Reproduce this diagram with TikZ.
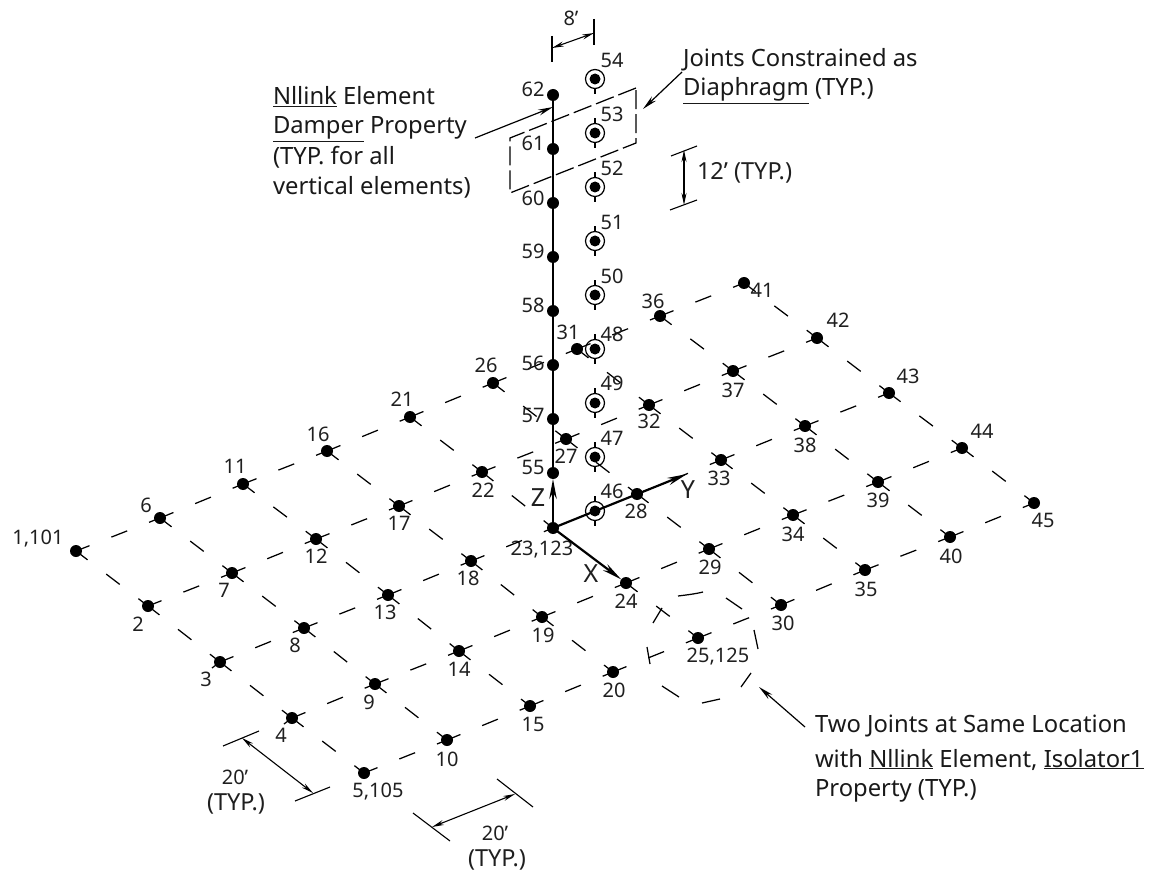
\documentclass[tikz,border=0pt]{standalone}
\usepackage{fontspec}
\setmainfont{Noto Sans}
\usetikzlibrary{arrows.meta}
\tikzset{
  x=1pt,y=-1pt,
  every node/.style={inner sep=0pt,outer sep=0pt},
  dot/.style={circle,fill=black,minimum size=12pt},
  innerdot/.style={circle,fill=black,minimum size=11pt},
  ring/.style={circle,draw=black,line width=1.2pt,minimum size=19pt},
  ptlabel/.style={font=\fontsize{20}{22}\selectfont,text=black!88},
  typlabel/.style={font=\fontsize{23.5}{26}\selectfont,text=black!88},
  axlabel/.style={font=\fontsize{25}{27}\selectfont,text=black!88},
  note/.style={font=\fontsize{23.8}{28}\selectfont,text=black!90,anchor=base west},
  gridline/.style={line width=1.25pt,dash pattern=on 14.5pt off 23.5pt on 17pt off 23.5pt},
  axis/.style={line width=2.2pt,-{Stealth[length=20pt,width=7.5pt]}},
  dim/.style={line width=1.1pt,{Stealth[length=12pt,width=5pt]}-{Stealth[length=12pt,width=5pt]}},
  lead/.style={line width=1.2pt,-{Stealth[length=15pt,width=6pt]}},
  tick/.style={line width=1.1pt},
  piece/.style={line width=1.25pt},
  frame/.style={line width=1.25pt,dash pattern=on 19pt off 5pt},
}
\begin{document}
\begin{tikzpicture}
\useasboundingbox (0,0) rectangle (1150,874);
% grid joints: number / x / y / label x / label y / label
\foreach \i/\x/\y/\lx/\ly/\t in {
 1/76/551/38/539/{1,101},2/148/606/138/624/2,3/220/662/206/679/3,4/292/718/281/735/4,5/364/773/378/792/{5,105},
 6/160/518/146/505/6,7/232/573/224/590/7,8/304/628/295/645/8,9/375/684/369/702/9,10/447/740/447/759/10,
 11/243/484/235/466/11,12/316/539/316/556/12,13/388/595/385/612/13,14/459/651/459/669/14,15/530/706/533/724/15,
 16/327/451/318/434/16,17/399/506/399/523/17,18/471/561/468/578/18,19/542/617/543/635/19,20/613/672/614/690/20,
 21/410/417/402/399/21,22/482/472/483/490/22,23/553/528/542/550/{23,123},24/626/583/626/601/24,25/698/638/718/657/{25,125},
 26/493/383/486/365/26,27/566/439/566/456/27,28/637/494/636/511/28,29/709/549/710/567/29,30/781/605/783/623/30,
 31/577/349/568/332/31,32/649/405/649/421/32,33/721/460/719/478/33,34/793/515/793/534/34,35/865/570/866/589/35,
 36/660/316/653/301/36,37/733/371/733/390/37,38/805/426/805/445/38,39/878/482/878/500/39,40/950/537/951/556/40,
 41/744/283/762/290/41,42/817/338/838/320/42,43/889/393/908/376/43,44/962/448/982/431/44,45/1034/503/1043/520/45}{
  \node[dot] (n\i) at (\x,\y) {};
  \node[ptlabel] (l\i) at (\lx,\ly) {\t};
}
% grid lines along X
\foreach \a/\b in {1/2,2/3,3/4,4/5,6/7,7/8,8/9,9/10,11/12,12/13,13/14,14/15,16/17,17/18,18/19,19/20,
 21/22,22/23,24/25,26/27,27/28,28/29,29/30,31/32,32/33,33/34,34/35,36/37,37/38,38/39,39/40,41/42,42/43,43/44,44/45}
  \draw[gridline] (n\a.center) -- (n\b.center);
% grid lines along Y
\foreach \a/\b in {1/6,6/11,11/16,16/21,21/26,26/31,31/36,36/41,
 2/7,7/12,12/17,17/22,22/27,27/32,32/37,37/42,
 3/8,8/13,13/18,18/23,28/33,33/38,38/43,
 4/9,9/14,14/19,19/24,24/29,29/34,34/39,39/44,
 5/10,10/15,15/20,20/25,25/30,30/35,35/40,40/45}
  \draw[gridline] (n\a.center) -- (n\b.center);
% small spurs on the blotted joints
\draw[piece] (n4.center) -- ++(-8,6);
\draw[piece] (n3.center) -- ++(-8,6);
% tower joints
\foreach \i/\y/\ly in {55/473/467,57/419/415,56/365/363,58/311/305,59/257/251,60/203/198,61/149/143,62/95/89}{
  \node[dot] (n\i) at (553,\y) {};
  \node[ptlabel] (l\i) at (533,\ly) {\i};
}
\draw[line width=1.7pt] (n55.center) -- (n62.center);
% constrained joints
\foreach \i/\y/\ly in {46/511/491,47/457/438,49/403/383,48/349/334,50/295/276,51/241/222,52/187/168,53/133/114,54/79/60}{
  \node[innerdot] (n\i) at (595,\y) {};
  \node[ring] (r\i) at (595,\y) {};
  \node[ptlabel] (l\i) at (612,\ly) {\i};
  \draw[line width=1.2pt] (r\i.south) -- ++(0,5.5);
}
\foreach \i in {46,47,48,49,50,51,52,53}
  \draw[line width=1.2pt] (r\i.north) -- ++(0,-5.5);
% axes
\coordinate (ytip) at (687,474);
\draw[axis] (n23.center) -- (ytip);
\draw[axis] (n23.center) -- (n24);
\draw[axis] (n23.center) -- (n55.south);
\node[axlabel] (zl) at (538,498) {Z};
\node[axlabel] (xl) at (591,574) {X};
\node[axlabel] (yl) at (688,490) {Y};
% diaphragm
\draw[frame] (636,88) -- (510,138) -- (510,193) -- (636,143) -- cycle;
% isolator outline
\draw[piece] (653,623) -- (662,608);
\draw[piece] (647,647) -- (650,664);
\draw[piece] (678,596) .. controls (686,595) and (695,594) .. (703,592);
\draw[piece] (726,598) -- (742,609);
\draw[piece] (754,630) -- (758,649);
\draw[piece] (751,673) -- (741,687);
\draw[piece] (720,699) -- (702,703);
\draw[piece] (679,697) -- (662,686);
% 8' dimension
\draw[tick] (552,36) -- (552,62);
\draw[tick] (594,19) -- (594,45);
\draw[dim] (552,48) -- (594,33);
\node[ptlabel] (d8) at (571,18) {8'};
% 12' dimension
\draw[tick] (671,156) -- (697,146);
\draw[tick] (670,210) -- (697,200);
\draw[dim] (684,150) -- (684,205);
\node[typlabel,anchor=west] (d12) at (697,173) {12' (TYP.)};
% bottom dimensions
\draw[tick] (223,746) -- (259,731);
\draw[tick] (295,801) -- (330,787);
\draw[dim] (242,738) -- (313,793);
\node[ptlabel] (a1) at (235,777) {20'};
\node[typlabel] (a2) at (236,804) {(TYP.)};
\draw[tick] (413,813) -- (450,841);
\draw[tick] (497,779) -- (533,807);
\draw[dim] (432,827) -- (515,794);
\node[ptlabel] (b1) at (495,833) {20'};
\node[typlabel] (b2) at (497,860) {(TYP.)};
% notes
\node[note] (t1) at (683,67) {Joints Constrained as};
\node[note] (t2) at (683,96) {\underline{Diaphragm} (TYP.)};
\node[note] (t3) at (273,105) {\underline{Nllink} Element};
\node[note] (t4) at (273,134) {\underline{Damper} Property};
\node[note] (t5) at (273,165) {(TYP. for all};
\node[note] (t6) at (273,195) {vertical elements)};
\node[note] (t7) at (815,732) {Two Joints at Same Location};
\node[note] (t8) at (815,767) {with \underline{Nllink} Element, \underline{Isolator1}};
\node[note] (t9) at (815,796) {Property (TYP.)};
\coordinate (lead1) at (475,138);
\coordinate (tip1) at (553,107);
\coordinate (lead2) at (682,72);
\coordinate (tip2) at (643,109);
\coordinate (lead3) at (805,727);
\coordinate (tip3) at (759,687);
\draw[lead] (lead1) -- (tip1);
\draw[lead] (lead2) -- (tip2);
\draw[lead] (lead3) -- (tip3);
\end{tikzpicture}
\end{document}
